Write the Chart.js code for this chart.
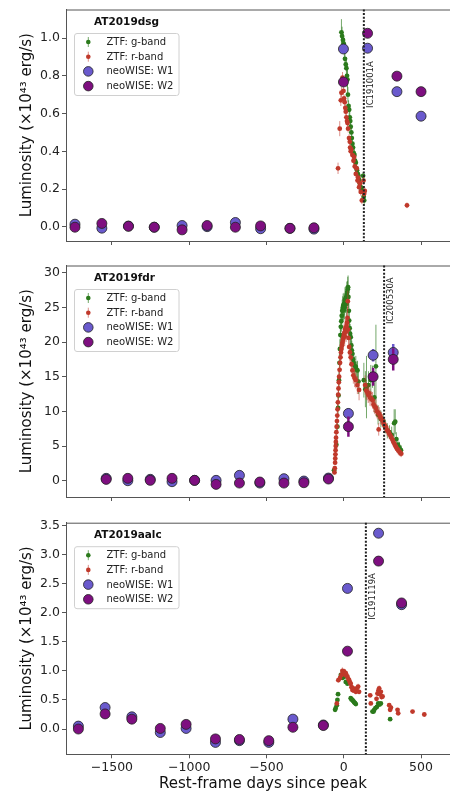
<!DOCTYPE html>
<html>
<head>
<meta charset="utf-8">
<title>Luminosity light curves</title>
<script src="https://cdn.jsdelivr.net/npm/chart.js@4.4.1/dist/chart.umd.min.js"></script>
<style>
  html, body { margin: 0; padding: 0; background: #fff; overflow: hidden; }
  body { width: 450px; height: 791px; position: relative; }
  .panel { position: absolute; left: 0; }
</style>
</head>
<body>
<div class="panel" style="top:0"><canvas id="dsg" width="460" height="256"></canvas></div>
<div class="panel" style="top:256px"><canvas id="fdr" width="460" height="256"></canvas></div>
<div class="panel" style="top:512px"><canvas id="aalc" width="460" height="290"></canvas></div>

<script>
// shared ticks
const xTickVals = [-1500, -1000, -500, 0, 500];

// AT2019dsg
const dsgGDay = [-15, -11, -5, 0, 4, 8, 13, 17, 21, 24, 27, 31, 35, 39, 42, 45, 49, 52, 56, 60, 65, 69, 73, 78, 82, 86, 91, 95, 99, 104, 110, 115, 121, 125, 129, 132];
const dsgGLum = [1.03, 1.01, 0.99, 0.97, 0.94, 0.89, 0.86, 0.84, 0.80, 0.78, 0.70, 0.64, 0.62, 0.58, 0.56, 0.53, 0.50, 0.47, 0.44, 0.42, 0.39, 0.38, 0.35, 0.34, 0.31, 0.30, 0.28, 0.27, 0.25, 0.23, 0.21, 0.20, 0.19, 0.27, 0.16, 0.14];
const dsgGErr = [0.07, 0.05, 0.04, 0.04, 0.05, 0.04, 0.03, 0.05, 0.06, 0.07, 0.04, 0.03, 0.03, 0.03, 0.03, 0.02, 0.03, 0.02, 0.03, 0.02, 0.02, 0.03, 0.02, 0.02, 0.02, 0.02, 0.02, 0.02, 0.02, 0.02, 0.02, 0.02, 0.02, 0.02, 0.02, 0.02];
const dsgRDay = [-37, -26, -19, -15, -8, -4, -2, 2, 6, 10, 13, 17, 21, 24, 28, 34, 39, 41, 45, 48, 56, 63, 67, 71, 78, 84, 89, 93, 99, 106, 110, 117, 128, 132, 136, 409];
const dsgRLum = [0.31, 0.52, 0.67, 0.71, 0.79, 0.77, 0.72, 0.68, 0.66, 0.63, 0.61, 0.58, 0.56, 0.55, 0.52, 0.47, 0.45, 0.42, 0.40, 0.41, 0.38, 0.35, 0.37, 0.32, 0.28, 0.31, 0.245, 0.26, 0.21, 0.23, 0.185, 0.14, 0.245, 0.175, 0.19, 0.114];
const dsgRErr = [0.03, 0.04, 0.03, 0.03, 0.03, 0.03, 0.02, 0.02, 0.02, 0.02, 0.02, 0.02, 0.02, 0.02, 0.02, 0.02, 0.02, 0.02, 0.02, 0.02, 0.02, 0.02, 0.02, 0.02, 0.02, 0.02, 0.02, 0.02, 0.02, 0.02, 0.02, 0.02, 0.02, 0.02, 0.02, 0.015];
const dsgWDay = [-1739, -1565, -1393, -1226, -1046, -884, -701, -538, -348, -193, -2, 154, 344, 500];
const dsgW1Lum = [0.014, -0.007, 0.004, -0.002, 0.007, 0.001, 0.023, -0.010, -0.008, -0.012, 0.942, 0.946, 0.716, 0.586];
const dsgW1Err = [0.006, 0.006, 0.006, 0.006, 0.006, 0.006, 0.006, 0.006, 0.006, 0.006, 0.01, 0.01, 0.01, 0.01];
const dsgW2Lum = [-0.002, 0.018, 0.003, -0.002, -0.016, 0.007, -0.002, 0.005, -0.008, -0.005, 0.767, 1.025, 0.798, 0.716];
const dsgW2Err = [0.008, 0.008, 0.008, 0.008, 0.008, 0.008, 0.008, 0.008, 0.008, 0.008, 0.012, 0.012, 0.012, 0.012];
const dsgYTicks = [0, 0.2, 0.4, 0.6, 0.8, 1.0];

// AT2019fdr
const fdrGDay = [-63, -48, -41, -37, -34, -31, -28, -25, -22, -19, -16, -13, -10, -7, -4, -1, 2, 5, 8, 11, 14, 17, 20, 23, 26, 28, 30, 33, 35, 38, 41, 45, 49, 52, 56, 60, 64, 70, 78, 84, 89, 95, 130, 140, 147, 160, 175, 186, 198, 208, 222, 240, 255, 268, 282, 296, 310, 326, 333, 340, 350, 360, 370];
const fdrGLum = [1.5, 5.2, 7.8, 10.5, 12.3, 14.5, 17.0, 19.0, 21.0, 22.2, 23.0, 23.8, 24.5, 24.9, 25.2, 24.6, 25.5, 25.0, 26.1, 25.8, 26.4, 25.5, 26.8, 27.2, 27.6, 27.9, 26.5, 24.5, 23.1, 22.0, 21.2, 20.7, 19.5, 18.8, 18.3, 17.5, 17.0, 16.6, 16.4, 16.0, 15.9, 14.3, 14.5, 13.2, 13.5, 13.8, 14.5, 15.0, 12.0, 16.5, 9.5, 8.9, 8.6, 7.8, 7.2, 7.0, 6.6, 8.3, 8.5, 6.0, 5.2, 4.8, 4.4];
const fdrGErr = [0.3, 0.6, 0.8, 1.0, 1.0, 1.2, 1.3, 1.4, 1.5, 1.6, 1.5, 1.8, 1.6, 1.7, 1.8, 1.5, 1.6, 1.7, 1.8, 1.6, 1.7, 1.8, 1.9, 1.6, 1.8, 1.7, 1.6, 1.5, 1.4, 1.5, 1.4, 1.5, 1.3, 1.4, 1.5, 1.2, 1.4, 1.3, 1.6, 1.2, 1.4, 1.8, 2.5, 2.6, 4.5, 2.0, 2.2, 1.6, 2.2, 6.0, 1.4, 1.2, 1.0, 1.0, 1.1, 1.0, 1.2, 2.0, 1.8, 1.0, 0.9, 0.8, 0.7];
const fdrRDay = [-60, -58, -56, -55, -54, -53, -52, -51, -50, -48, -46, -44, -42, -40, -38, -36, -34, -32, -30, -27, -24, -21, -18, -15, -12, -9, -6, -3, 0, 3, 6, 9, 12, 15, 18, 21, 24, 26, 28, 31, 35, 40, 45, 50, 56, 62, 70, 78, 88, 99, 138, 145, 152, 158, 164, 170, 178, 186, 193, 200, 208, 215, 222, 226, 230, 236, 243, 251, 258, 265, 272, 280, 287, 294, 302, 309, 316, 323, 330, 337, 345, 352, 359, 366, 372];
const fdrRLum = [1.2, 1.8, 2.6, 3.2, 3.8, 4.4, 5.0, 5.6, 6.2, 7.0, 7.8, 8.6, 9.4, 10.3, 11.3, 12.4, 13.3, 14.2, 15.0, 16.0, 17.0, 17.8, 18.5, 19.0, 19.5, 19.9, 20.3, 20.6, 21.0, 21.3, 20.8, 21.8, 22.0, 21.5, 22.3, 22.8, 23.5, 25.9, 21.8, 20.6, 19.3, 18.5, 17.8, 16.8, 15.9, 15.2, 14.8, 14.5, 13.8, 13.1, 13.8, 13.0, 12.8, 12.4, 12.6, 12.0, 11.8, 11.6, 11.0, 10.7, 10.5, 10.0, 9.8, 7.4, 9.6, 9.2, 9.0, 8.7, 8.2, 8.0, 7.7, 7.3, 7.1, 6.8, 6.5, 6.2, 5.9, 5.5, 5.2, 4.9, 4.6, 4.4, 4.2, 4.0, 3.9];
const fdrRErr = [0.3, 0.3, 0.4, 0.4, 0.5, 0.5, 0.5, 0.6, 0.6, 0.7, 0.7, 0.8, 0.8, 0.9, 0.9, 1.0, 1.0, 1.0, 1.1, 1.1, 1.2, 1.2, 1.2, 1.3, 1.3, 1.3, 1.3, 1.4, 1.4, 1.4, 1.4, 1.5, 1.4, 1.5, 1.5, 1.5, 1.6, 1.5, 1.4, 1.4, 1.3, 1.3, 1.3, 1.2, 1.2, 1.2, 1.3, 1.2, 1.3, 1.5, 1.4, 1.3, 1.2, 1.2, 1.3, 1.2, 1.1, 1.2, 1.1, 1.1, 1.2, 1.0, 1.0, 0.9, 1.0, 1.0, 0.9, 0.9, 0.9, 0.9, 0.8, 0.8, 0.8, 0.8, 0.8, 0.7, 0.7, 0.7, 0.7, 0.6, 0.6, 0.6, 0.6, 0.5, 0.5];
const fdrWDay = [-1537, -1397, -1252, -1111, -965, -826, -675, -543, -387, -258, -99, 30, 190, 320];
const fdrW1Lum = [0.34, 0.00, 0.20, -0.14, 0.05, 0.05, 0.77, -0.34, 0.29, -0.05, 0.38, 9.7, 18.1, 18.5];
const fdrW1Err = [0.15, 0.15, 0.15, 0.15, 0.15, 0.15, 0.2, 0.15, 0.15, 0.15, 0.2, 0.75, 0.9, 1.2];
const fdrW2Lum = [0.19, 0.34, 0.05, 0.34, 0.05, -0.53, -0.34, -0.19, -0.34, -0.29, 0.24, 7.8, 15.0, 17.5];
const fdrW2Err = [0.2, 0.2, 0.2, 0.2, 0.2, 0.2, 0.2, 0.2, 0.2, 0.2, 0.25, 1.45, 1.3, 1.6];
const fdrYTicks = [0, 5, 10, 15, 20, 25, 30];

// AT2019aalc
const aalcGDay = [-56, -52, -45, -41, -37, -19, -9, 2, 13, 24, 45, 50, 56, 62, 67, 72, 78, 186, 193, 197, 205, 214, 223, 232, 240, 300];
const aalcGLum = [0.33, 0.36, 0.41, 0.50, 0.60, 0.93, 0.88, 0.90, 0.81, 0.78, 0.53, 0.51, 0.50, 0.48, 0.46, 0.45, 0.43, 0.30, 0.30, 0.33, 0.36, 0.38, 0.44, 0.42, 0.44, 0.17];
const aalcGErr = [0.02, 0.02, 0.02, 0.02, 0.02, 0.03, 0.02, 0.02, 0.02, 0.02, 0.02, 0.02, 0.02, 0.02, 0.02, 0.02, 0.02, 0.02, 0.02, 0.02, 0.02, 0.02, 0.02, 0.02, 0.02, 0.02];
const aalcRDay = [-45, -35, -24, -15, -9, -4, 2, 6, 13, 18, 24, 30, 35, 40, 45, 50, 56, 62, 67, 78, 85, 93, 99, 171, 175, 212, 218, 224, 229, 234, 240, 245, 251, 294, 300, 305, 348, 352, 445, 521];
const aalcRLum = [0.44, 0.84, 0.88, 0.93, 1.00, 0.97, 0.99, 0.94, 0.96, 0.92, 0.90, 0.86, 0.84, 0.80, 0.78, 0.72, 0.67, 0.70, 0.66, 0.64, 0.70, 0.73, 0.64, 0.58, 0.44, 0.52, 0.61, 0.66, 0.70, 0.60, 0.64, 0.55, 0.56, 0.41, 0.33, 0.37, 0.33, 0.27, 0.30, 0.25];
const aalcRErr = [0.03, 0.04, 0.05, 0.05, 0.06, 0.05, 0.05, 0.05, 0.05, 0.05, 0.05, 0.05, 0.05, 0.05, 0.05, 0.05, 0.04, 0.05, 0.04, 0.04, 0.05, 0.05, 0.04, 0.03, 0.03, 0.04, 0.05, 0.05, 0.05, 0.04, 0.04, 0.04, 0.04, 0.03, 0.03, 0.03, 0.03, 0.03, 0.02, 0.02];
const aalcWDay = [-1717, -1544, -1371, -1187, -1020, -830, -675, -485, -329, -132, 24, 225, 374];
const aalcW1Lum = [0.05, 0.37, 0.21, -0.06, 0.01, -0.23, -0.20, -0.23, 0.17, 0.07, 2.42, 3.37, 2.14];
const aalcW1Err = [0.02, 0.02, 0.02, 0.02, 0.02, 0.02, 0.02, 0.02, 0.02, 0.02, 0.03, 0.03, 0.03];
const aalcW2Lum = [0.00, 0.26, 0.17, 0.01, 0.08, -0.17, -0.18, -0.20, 0.03, 0.06, 1.34, 2.89, 2.17];
const aalcW2Err = [0.03, 0.03, 0.03, 0.03, 0.03, 0.03, 0.03, 0.03, 0.03, 0.03, 0.04, 0.04, 0.04];
const aalcYTicks = [0, 0.5, 1.0, 1.5, 2.0, 2.5, 3.0, 3.5];

// neutrino arrivals
const nuNames = ['IC191001A', 'IC200530A', 'IC191119A'];
const nuDays = [130, 261, 143];

const legendLabels = ['ZTF: g-band', 'ZTF: r-band', 'neoWISE: W1', 'neoWISE: W2'];

const gColor = '#2b7a1c', rColor = '#c0392b', w1Color = '#6a5acd', w2Color = '#7e0f80';
const FONT = '"DejaVu Sans", sans-serif';
const FRAME = '#555';

function pts(days, lum) {
  return days.map((d, i) => ({x: d, y: lum[i]}));
}

// error bars drawn right before each dataset's own points
const errorBars = {
  id: 'errorBars',
  beforeDatasetDraw(chart, args) {
    const ds = chart.data.datasets[args.index];
    if (!ds.err) return;
    const {ctx, chartArea: a, scales: {x, y}} = chart;
    ctx.save();
    ctx.beginPath();
    ctx.rect(a.left, a.top, a.width, a.height);
    ctx.clip();
    ctx.strokeStyle = ds.errColor;
    ctx.lineWidth = ds.errWidth;
    ds.data.forEach((p, i) => {
      const px = x.getPixelForValue(p.x);
      ctx.beginPath();
      ctx.moveTo(px, y.getPixelForValue(p.y - ds.err[i]));
      ctx.lineTo(px, y.getPixelForValue(p.y + ds.err[i]));
      ctx.stroke();
    });
    ctx.restore();
  }
};

// frame, neutrino line, title and legend box
const decor = {
  id: 'decor',
  afterDatasetsDraw(chart, args, opts) {
    const {ctx, chartArea: a, scales: {x, y}} = chart;
    ctx.save();
    ctx.strokeStyle = FRAME;
    ctx.lineWidth = 1;
    ctx.beginPath();
    ctx.moveTo(a.left, a.top + 0.5);
    ctx.lineTo(a.right, a.top + 0.5);
    ctx.stroke();

    const nx = x.getPixelForValue(opts.nuDay);
    ctx.strokeStyle = '#222';
    ctx.lineWidth = 2;
    ctx.setLineDash([2, 1.6]);
    ctx.beginPath();
    ctx.moveTo(nx, a.top);
    ctx.lineTo(nx, a.bottom);
    ctx.stroke();
    ctx.setLineDash([]);

    ctx.translate(nx + 7, y.getPixelForValue(opts.nuLabelY));
    ctx.rotate(-Math.PI / 2);
    ctx.fillStyle = '#222';
    ctx.font = '8.5px ' + FONT;
    ctx.textAlign = 'left';
    ctx.textBaseline = 'middle';
    ctx.fillText(opts.nuName, 0, 0);
    ctx.restore();
  },
  afterDraw(chart, args, opts) {
    const {ctx, chartArea: a} = chart;
    const T = a.top;
    ctx.save();
    ctx.fillStyle = '#111';
    ctx.font = 'bold 10.5px ' + FONT;
    ctx.textAlign = 'left';
    ctx.textBaseline = 'middle';
    ctx.fillText(opts.title, 94, T + 12.5);

    // legend frame
    const bx = 74, by = T + 23.5, bw = 104.5, bh = 62;
    ctx.beginPath();
    ctx.roundRect(bx + 0.5, by + 0.5, bw, bh, 2.5);
    ctx.fillStyle = 'rgba(255,255,255,0.85)';
    ctx.fill();
    ctx.strokeStyle = '#d0d0d0';
    ctx.lineWidth = 1;
    ctx.stroke();

    const items = chart.data.datasets;
    [0, 1, 2, 3].forEach((k, j) => {
      const ds = items[k];
      const iy = T + 32.5 + j * 14.7;
      const mx = 88.3;
      if (ds.pointRadius < 3) {
        ctx.strokeStyle = ds.errColor;
        ctx.lineWidth = 1;
        ctx.beginPath();
        ctx.moveTo(mx, iy - 5);
        ctx.lineTo(mx, iy + 5);
        ctx.stroke();
        ctx.beginPath();
        ctx.arc(mx, iy, 2.3, 0, Math.PI * 2);
        ctx.fillStyle = ds.backgroundColor;
        ctx.fill();
      } else {
        ctx.beginPath();
        ctx.arc(mx, iy, 4.8, 0, Math.PI * 2);
        ctx.fillStyle = ds.backgroundColor;
        ctx.fill();
        ctx.strokeStyle = '#222';
        ctx.lineWidth = 0.8;
        ctx.stroke();
      }
      ctx.fillStyle = '#222';
      ctx.font = '10px ' + FONT;
      ctx.fillText(legendLabels[k], 106.5, iy + 0.5);
    });
    ctx.restore();
  }
};

function ztfSet(label, days, lum, err, color, errColor, order) {
  return {
    label, data: pts(days, lum), err, errColor, errWidth: 1,
    backgroundColor: color, borderColor: color,
    pointRadius: 2.4, pointBorderWidth: 0, showLine: false, order
  };
}

function wiseSet(label, days, lum, err, color, order) {
  return {
    label, data: pts(days, lum), err, errColor: color, errWidth: 2.5,
    backgroundColor: color, borderColor: '#222',
    pointRadius: 5, pointBorderWidth: 0.8, showLine: false, order
  };
}

function fmtX(v) {
  return v < 0 ? '\u2212' + Math.abs(v) : String(v);
}

function makePanel(id, p) {
  return new Chart(document.getElementById(id), {
    type: 'scatter',
    data: {
      datasets: [
        ztfSet(legendLabels[0], p.gDay, p.gLum, p.gErr, gColor, 'rgba(43,122,28,0.65)', 3),
        ztfSet(legendLabels[1], p.rDay, p.rLum, p.rErr, rColor, 'rgba(192,57,43,0.55)', 2),
        wiseSet(legendLabels[2], p.wDay, p.w1Lum, p.w1Err, w1Color, 1),
        wiseSet(legendLabels[3], p.wDay, p.w2Lum, p.w2Err, w2Color, 0)
      ]
    },
    options: {
      responsive: false,
      animation: false,
      devicePixelRatio: 1,
      events: [],
      layout: {autoPadding: false, padding: {top: p.padTop, left: 0, right: 0, bottom: 0}},
      plugins: {
        legend: {display: false},
        tooltip: {enabled: false},
        decor: {title: p.title, nuDay: p.nuDay, nuName: p.nuName, nuLabelY: p.nuLabelY}
      },
      scales: {
        x: {
          type: 'linear', min: -1797, max: 752,
          afterBuildTicks: s => { s.ticks = xTickVals.map(v => ({value: v})); },
          afterFit: s => { s.height = p.xHeight; },
          border: {color: FRAME, width: 1},
          grid: {drawOnChartArea: false, color: FRAME, tickLength: 4},
          ticks: {
            display: p.showX, color: '#222', padding: 2,
            font: {family: FONT, size: 12.5}, callback: fmtX, maxRotation: 0
          },
          title: {
            display: p.showX, text: 'Rest-frame days since peak', color: '#111',
            font: {family: FONT, size: 15}, padding: {top: 0, bottom: 9}
          }
        },
        y: {
          type: 'linear', min: p.yMin, max: p.yMax,
          afterBuildTicks: s => { s.ticks = p.yTicks.map(v => ({value: v})); },
          afterFit: s => { s.width = 66; },
          border: {color: FRAME, width: 1},
          grid: {drawOnChartArea: false, color: FRAME, tickLength: 4},
          ticks: {
            color: '#222', padding: 2, font: {family: FONT, size: 12.5},
            callback: v => v.toFixed(p.yDec)
          },
          title: {
            display: true, text: 'Luminosity (\u00d710\u2074\u00b3 erg/s)', color: '#111',
            font: {family: FONT, size: 15}, padding: {top: 18, bottom: 0}
          }
        }
      }
    },
    plugins: [errorBars, decor]
  });
}

makePanel('dsg', {
  title: 'AT2019dsg', gDay: dsgGDay, gLum: dsgGLum, gErr: dsgGErr,
  rDay: dsgRDay, rLum: dsgRLum, rErr: dsgRErr,
  wDay: dsgWDay, w1Lum: dsgW1Lum, w1Err: dsgW1Err, w2Lum: dsgW2Lum, w2Err: dsgW2Err,
  yMin: -0.075, yMax: 1.151, yTicks: dsgYTicks, yDec: 1,
  nuDay: nuDays[0], nuName: nuNames[0], nuLabelY: 0.63,
  padTop: 8, xHeight: 15, showX: false
});

makePanel('fdr', {
  title: 'AT2019fdr', gDay: fdrGDay, gLum: fdrGLum, gErr: fdrGErr,
  rDay: fdrRDay, rLum: fdrRLum, rErr: fdrRErr,
  wDay: fdrWDay, w1Lum: fdrW1Lum, w1Err: fdrW1Err, w2Lum: fdrW2Lum, w2Err: fdrW2Err,
  yMin: -2.35, yMax: 31.04, yTicks: fdrYTicks, yDec: 0,
  nuDay: nuDays[1], nuName: nuNames[1], nuLabelY: 22.6,
  padTop: 9, xHeight: 15, showX: false
});

makePanel('aalc', {
  title: 'AT2019aalc', gDay: aalcGDay, gLum: aalcGLum, gErr: aalcGErr,
  rDay: aalcRDay, rLum: aalcRLum, rErr: aalcRErr,
  wDay: aalcWDay, w1Lum: aalcW1Lum, w1Err: aalcW1Err, w2Lum: aalcW2Lum, w2Err: aalcW2Err,
  yMin: -0.435, yMax: 3.551, yTicks: aalcYTicks, yDec: 1,
  nuDay: nuDays[2], nuName: nuNames[2], nuLabelY: 1.88,
  padTop: 10.7, xHeight: 47.7, showX: true
});
</script>
</body>
</html>
